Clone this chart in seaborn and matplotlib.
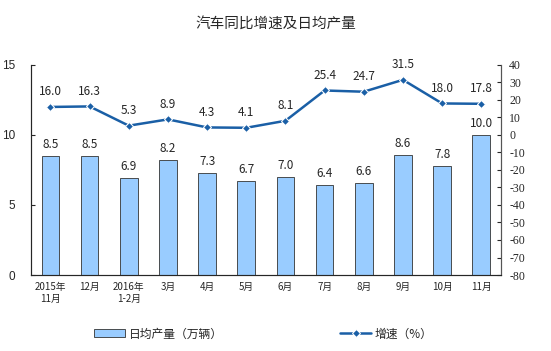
import seaborn as sns
import pandas as pd
import matplotlib.pyplot as plt
import numpy as np

sns.set_style('white')
plt.rcParams['font.family'] = ['Noto Sans CJK SC', 'DejaVu Sans']
plt.rcParams['axes.unicode_minus'] = False

months = ['2015年\n11月', '12月', '2016年\n1-2月', '3月', '4月', '5月',
          '6月', '7月', '8月', '9月', '10月', '11月']
daily_output = [8.5, 8.5, 6.9, 8.2, 7.3, 6.7, 7.0, 6.4, 6.6, 8.6, 7.8, 10.0]
growth = [16.0, 16.3, 5.3, 8.9, 4.3, 4.1, 8.1, 25.4, 24.7, 31.5, 18.0, 17.8]

df = pd.DataFrame({'month': months, 'output': daily_output, 'growth': growth})

bar_color = '#99CCFF'
line_color = '#1A5FA6'

fig = plt.figure(figsize=(5.51, 3.51), dpi=100)
ax = fig.add_axes([0.056, 0.2165, 0.853, 0.5985])

sns.barplot(data=df, x='month', y='output', color=bar_color, width=0.45,
            edgecolor='#333333', linewidth=0.6, saturation=1, ax=ax,
            label='日均产量（万辆）')
for i, v in enumerate(daily_output):
    ax.text(i, v + 0.35, f'{v:.1f}', ha='center', va='bottom', fontsize=8.5)

ax.set_ylim(0, 15)
ax.set_yticks([0, 5, 10, 15])
ax.set_xlim(-0.5, len(months) - 0.5)
ax.set_xlabel('')
ax.set_ylabel('')
ax.tick_params(axis='y', direction='in', length=3, labelsize=8.5, pad=11)
ax.tick_params(axis='x', length=0, labelsize=7, pad=5)
ax.set_xticks(np.arange(-0.5, len(months), 1), minor=True)
ax.tick_params(axis='x', which='minor', direction='in', length=3)
ax.spines['top'].set_visible(False)
for s in ['left', 'bottom', 'right']:
    ax.spines[s].set_color('#555555')

ax2 = ax.twinx()
sns.lineplot(x=np.arange(len(months)), y=growth, color=line_color, marker='D',
             markersize=4, linewidth=1.8, ax=ax2, label='增速（%）')
for i, v in enumerate(growth):
    ax2.text(i, v + 5, f'{v:.1f}', ha='center', va='bottom', fontsize=8.5)
ax2.set_ylim(-80, 40)
ax2.set_yticks(np.arange(-80, 41, 10))
ax2.tick_params(axis='y', direction='in', length=3, labelsize=8.5, pad=6)
ax2.spines['top'].set_visible(False)
ax2.spines['right'].set_color('#555555')
for lbl in ax2.get_yticklabels():
    lbl.set_family(['Liberation Serif'])
for lbl in ax.get_yticklabels():
    lbl.set_family(['Liberation Sans'])

h1, l1 = ax.get_legend_handles_labels()
h2, l2 = ax2.get_legend_handles_labels()
if ax.get_legend():
    ax.get_legend().remove()
ax2.get_legend().remove()
fig.legend(h1 + h2, l1 + l2, loc='lower center', bbox_to_anchor=(0.478, 0.0),
           ncol=2, frameon=False, fontsize=8.5, columnspacing=10,
           handlelength=2.6, handleheight=0.6, handletextpad=0.3)

fig.suptitle('汽车同比增速及日均产量', y=0.952, fontsize=10.5)

fig.savefig('out.png', dpi=100)
